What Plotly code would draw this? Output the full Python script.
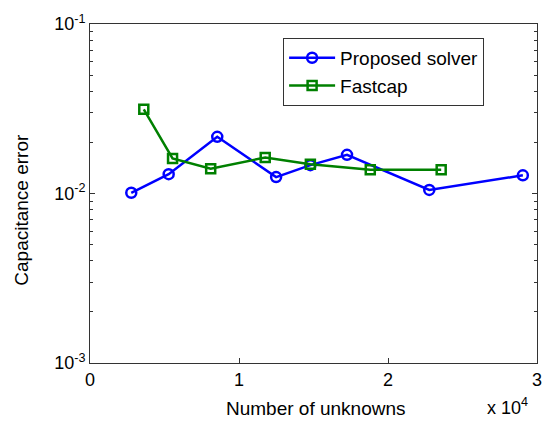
import plotly.graph_objects as go

# Data
proposed_x = [2770, 5280, 8540, 12490, 14790, 17250, 22770, 29050]
proposed_y = [0.0101, 0.0130, 0.0216, 0.0125, 0.0147, 0.0169, 0.0105, 0.0128]
fastcap_x = [3610, 5540, 8100, 11760, 14790, 18810, 23570]
fastcap_y = [0.0314, 0.0161, 0.0140, 0.0163, 0.0149, 0.0138, 0.0138]

x_tickvals = [0, 10000, 20000, 30000]
x_ticktext = ["0", "1", "2", "3"]
y_tickvals = [0.001, 0.01, 0.1]
y_ticktext = ["10<sup>-3</sup>", "10<sup>-2</sup>", "10<sup>-1</sup>"]

FONT = "Liberation Sans, Arial, sans-serif"

fig = go.Figure()
fig.add_trace(go.Scatter(
    x=proposed_x, y=proposed_y, mode="lines+markers", name="Proposed solver",
    line=dict(color="#0000FF", width=2.5),
    marker=dict(symbol="circle-open", size=10, color="#0000FF", line=dict(width=2.5)),
))
fig.add_trace(go.Scatter(
    x=fastcap_x, y=fastcap_y, mode="lines+markers", name="Fastcap",
    line=dict(color="#008000", width=2.5),
    marker=dict(symbol="square-open", size=9, color="#008000", line=dict(width=2.5)),
))

axis_common = dict(
    showgrid=False, zeroline=False, showline=True, linecolor="#333333", linewidth=1,
    ticks="inside", tickcolor="#333333", tickfont=dict(family=FONT, size=18, color="black"),
)

fig.update_xaxes(
    range=[0, 30000], tickmode="array", tickvals=x_tickvals, ticktext=x_ticktext,
    ticklen=5, mirror=True, **axis_common,
)
fig.update_yaxes(
    type="log", range=[-3, -1], tickmode="array", tickvals=y_tickvals, ticktext=y_ticktext,
    ticklen=5, mirror="ticks",
    minor=dict(ticks="inside", ticklen=3, tickcolor="#333333", dtick="D1", showgrid=False),
    **axis_common,
)

fig.update_layout(
    width=548, height=422,
    margin=dict(l=90, r=6, t=24, b=59),
    plot_bgcolor="white", paper_bgcolor="white",
    font=dict(family=FONT, size=18, color="black"),
    showlegend=True,
    legend=dict(
        x=0.432, y=0.959, xanchor="left", yanchor="top",
        bgcolor="white", bordercolor="#333333", borderwidth=1,
        font=dict(family=FONT, size=19, color="black"),
        tracegroupgap=0, itemwidth=46, entrywidth=150, entrywidthmode="pixels",
    ),
    annotations=[
        dict(text="Number of unknowns", xref="paper", yref="paper", x=0.506, y=-0.133,
             xanchor="center", yanchor="middle", showarrow=False,
             font=dict(family=FONT, size=19, color="black")),
        dict(text="x 10<sup>4</sup>", xref="paper", yref="paper", x=0.985, y=-0.128,
             xanchor="right", yanchor="middle", showarrow=False,
             font=dict(family=FONT, size=18, color="black")),
        dict(text="Capacitance error", xref="paper", yref="paper", x=-0.153, y=0.451,
             xanchor="center", yanchor="middle", textangle=-90, showarrow=False,
             font=dict(family=FONT, size=19, color="black")),
    ],
)

fig.write_html("out.html")
